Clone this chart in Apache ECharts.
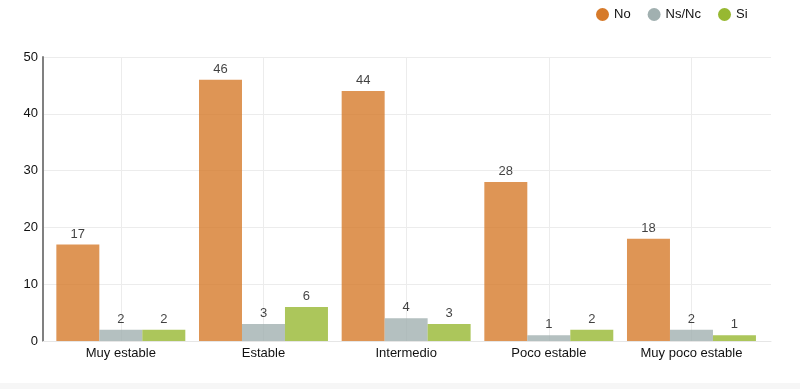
<!DOCTYPE html>
<html>
<head>
<meta charset="utf-8">
<script src="https://cdn.jsdelivr.net/npm/echarts@6/dist/echarts.min.js"></script>
<style>html,body{margin:0;padding:0;background:#fff}#c{width:800px;height:389px}</style>
</head>
<body>
<div id="c"></div>
<script>
var categories = ['Muy estable', 'Estable', 'Intermedio', 'Poco estable', 'Muy poco estable'];
var seriesNames = ['No', 'Ns/Nc', 'Si'];
var noValues = [17, 46, 44, 28, 18];
var nsncValues = [2, 3, 4, 1, 2];
var siValues = [2, 6, 3, 2, 1];
var yTicks = [0, 10, 20, 30, 40, 50];

var colors = ['#d67a2a', '#a1b0b0', '#97b832'];
var font = 'Liberation Sans, Arial, sans-serif';
var chart = echarts.init(document.getElementById('c'), null, {renderer: 'canvas'});

function mkSeries(name, data, color) {
  return {
    name: name, type: 'bar', xAxisIndex: 1, yAxisIndex: 1, data: data,
    barGap: '0%', barCategoryGap: '9.6%',
    itemStyle: {color: color, opacity: 0.8},
    label: {show: true, position: 'top', distance: 4, color: '#111', fontSize: 13, fontFamily: font},
    emphasis: {disabled: true}
  };
}

chart.setOption({
  animation: false,
  textStyle: {fontFamily: font},
  color: colors,
  legend: {
    data: seriesNames, left: 591, top: 3, icon: 'circle', itemWidth: 13, itemHeight: 13, itemGap: 17,
    itemStyle: {opacity: 1},
    textStyle: {fontSize: 13, color: '#111', fontFamily: font}
  },
  graphic: [{type: 'rect', left: 0, top: 383, shape: {width: 800, height: 6}, style: {fill: '#f6f6f6'}, silent: true}],
  grid: [
    {left: 43, right: 29, top: 57, bottom: 48},
    {left: 49.5, right: 37.2, top: 57, bottom: 48},
    {left: 120.85, right: 108.5, top: 57, bottom: 48}
  ],
  xAxis: [
    {gridIndex: 0, type: 'category', data: ['a'], show: true, axisLine: {show: true, lineStyle: {color: '#e6e6e6'}}, axisTick: {show: false}, axisLabel: {show: false}, splitLine: {show: false}},
    {gridIndex: 1, type: 'category', data: categories, axisLine: {show: false}, axisTick: {show: false},
     axisLabel: {color: '#111', fontSize: 13, margin: 6, fontFamily: font}, splitLine: {show: false}},
    {gridIndex: 2, type: 'category', data: categories, boundaryGap: false, axisLine: {show: false}, axisTick: {show: false},
     axisLabel: {show: false}, splitLine: {show: true, lineStyle: {color: '#ececec', width: 1}}}
  ],
  yAxis: [
    {gridIndex: 0, type: 'value', min: yTicks[0], max: yTicks[yTicks.length - 1], interval: 10,
     axisLine: {show: true, lineStyle: {color: '#808080', width: 2}}, axisTick: {show: false},
     axisLabel: {color: '#111', fontSize: 13, margin: 5, fontFamily: font},
     splitLine: {show: true, lineStyle: {color: '#ececec', width: 1}}},
    {gridIndex: 1, type: 'value', min: 0, max: 50, interval: 10, show: false},
    {gridIndex: 2, type: 'value', min: 0, max: 50, interval: 10, show: false}
  ],
  series: [
    mkSeries(seriesNames[0], noValues, colors[0]),
    mkSeries(seriesNames[1], nsncValues, colors[1]),
    mkSeries(seriesNames[2], siValues, colors[2])
  ]
});
</script>
</body>
</html>
